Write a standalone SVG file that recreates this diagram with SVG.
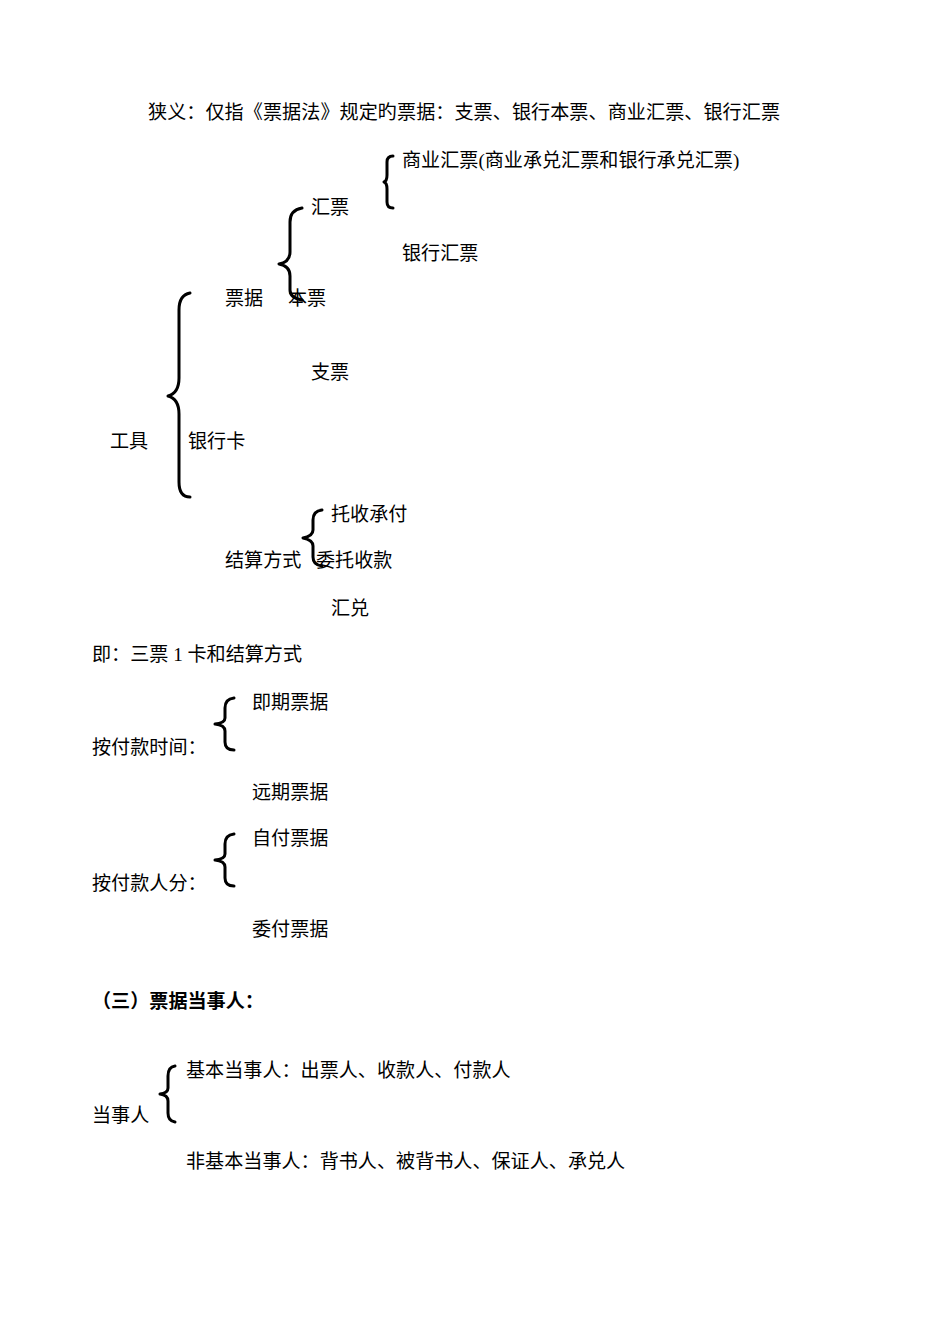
<svg xmlns="http://www.w3.org/2000/svg" width="950" height="1344" viewBox="0 0 950 1344">
<style>
text{font-family:"Liberation Serif","Noto Sans CJK SC",serif;font-size:19.1px;fill:#000;dominant-baseline:central}
.b{font-weight:bold}
.brace{fill:none;stroke:#000;stroke-width:3;stroke-linecap:round;stroke-linejoin:round}
</style>
<rect width="950" height="1344" fill="#fff"/>
<g id="connectors">
<path class="brace" d="M393,156 Q387,156 387,162 L387,175 Q387,181 384,182 Q387,183 387,189 L387,202 Q387,208 393,208"/>
<path class="brace" d="M302,208 Q290,210 290,222 L290,252 Q290,262 279,264 Q290,266 290,276 L290,290 Q290,298 302,300"/>
<path class="brace" d="M190,293 Q179,295 179,310 L179,378 Q179,393 168,396 Q179,399 179,414 L179,482 Q179,497 190,497"/>
<path class="brace" d="M322,510 Q313,511 313,520 L313,530 Q313,536 303,538 Q313,540 313,546 L313,557 Q313,565 322,566"/>
<path class="brace" d="M234,698 Q225,699 225,708 L225,718 Q225,723 215,724 Q225,725 225,731 L225,742 Q225,750 234,750"/>
<path class="brace" d="M234,834 Q225,835 225,844 L225,854 Q225,859 215,860 Q225,861 225,867 L225,878 Q225,886 234,886"/>
<path class="brace" d="M175,1066 Q168,1067 168,1076 L168,1088 Q168,1093 160,1094 Q168,1095 168,1101 L168,1113 Q168,1121 175,1122"/>
</g>
<g id="title"><text x="148" y="112" textLength="632" lengthAdjust="spacing">狭义：仅指《票据法》规定旳票据：支票、银行本票、商业汇票、银行汇票</text></g>
<g id="n-shangye"><text x="402" y="160">商业汇票(商业承兑汇票和银行承兑汇票)</text></g>
<g id="n-huipiao"><text x="311" y="207">汇票</text></g>
<g id="n-yinhanghuipiao"><text x="402" y="253">银行汇票</text></g>
<g id="n-piaoju"><text x="225" y="298">票据</text></g>
<g id="n-benpiao"><text x="288" y="298">本票</text></g>
<g id="n-zhipiao"><text x="311" y="372">支票</text></g>
<g id="n-gongju"><text x="110" y="441">工具</text></g>
<g id="n-yinhangka"><text x="188" y="441">银行卡</text></g>
<g id="n-tuoshou"><text x="331" y="514">托收承付</text></g>
<g id="n-jiesuan"><text x="225" y="560">结算方式</text></g>
<g id="n-weituo"><text x="316" y="560">委托收款</text></g>
<g id="n-huidui"><text x="331" y="608">汇兑</text></g>
<g id="n-ji"><text x="92" y="654">即：三票 1 卡和结算方式</text></g>
<g id="n-jiqi"><text x="252" y="702">即期票据</text></g>
<g id="n-fukuanshijian"><text x="92" y="747">按付款时间：</text></g>
<g id="n-yuanqi"><text x="252" y="792">远期票据</text></g>
<g id="n-zifu"><text x="252" y="838">自付票据</text></g>
<g id="n-fukuanren"><text x="92" y="883">按付款人分：</text></g>
<g id="n-weifu"><text x="252" y="929">委付票据</text></g>
<g id="n-heading"><text class="b" x="92" y="1001">（三）票据当事人：</text></g>
<g id="n-jiben"><text x="186" y="1070">基本当事人：出票人、收款人、付款人</text></g>
<g id="n-dangshiren"><text x="92" y="1115">当事人</text></g>
<g id="n-feijiben"><text x="186" y="1161">非基本当事人：背书人、被背书人、保证人、承兑人</text></g>
</svg>
